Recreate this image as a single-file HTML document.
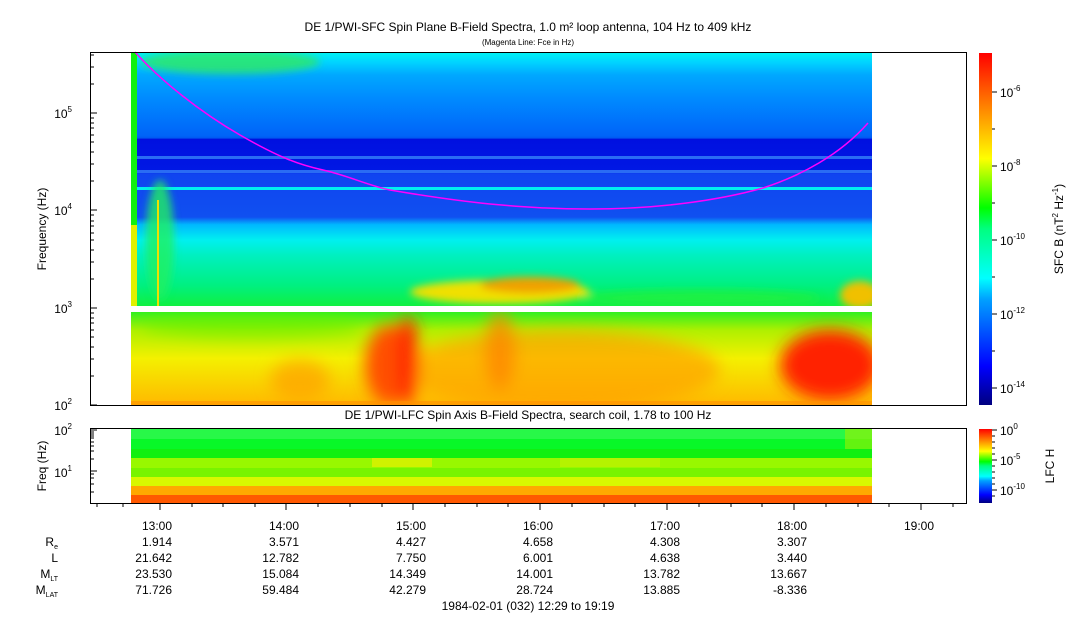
<!DOCTYPE html>
<html><head><meta charset="utf-8"><style>
body{margin:0;background:#fff;}
svg{display:block;font-family:"Liberation Sans",sans-serif;}
</style></head><body>
<svg width="1083" height="620" viewBox="0 0 1083 620" xmlns="http://www.w3.org/2000/svg">
<defs>
<linearGradient id="up" x1="0" y1="52" x2="0" y2="306" gradientUnits="userSpaceOnUse">
<stop offset="0" stop-color="#00f4f4"/>
<stop offset="0.04" stop-color="#00d4ff"/>
<stop offset="0.09" stop-color="#00a8ff"/>
<stop offset="0.19" stop-color="#0088ff"/>
<stop offset="0.33" stop-color="#0064f8"/>
<stop offset="0.339" stop-color="#0058f0"/>
<stop offset="0.343" stop-color="#0010e0"/>
<stop offset="0.465" stop-color="#0018e4"/>
<stop offset="0.48" stop-color="#1044f0"/>
<stop offset="0.65" stop-color="#1050f0"/>
<stop offset="0.68" stop-color="#00b8ff"/>
<stop offset="0.74" stop-color="#00f0f0"/>
<stop offset="0.8" stop-color="#00f0c0"/>
<stop offset="0.92" stop-color="#00f080"/>
<stop offset="1" stop-color="#10f040"/>
</linearGradient>
<linearGradient id="lo" x1="0" y1="312" x2="0" y2="405" gradientUnits="userSpaceOnUse">
<stop offset="0" stop-color="#30f020"/>
<stop offset="0.2" stop-color="#b0f000"/>
<stop offset="0.5" stop-color="#f4f000"/>
<stop offset="1" stop-color="#ffb800"/>
</linearGradient>
<linearGradient id="cb1" x1="0" y1="405" x2="0" y2="53" gradientUnits="userSpaceOnUse">
<stop offset="0" stop-color="#00007f"/><stop offset="0.11" stop-color="#0000ff"/>
<stop offset="0.3" stop-color="#00a0ff"/><stop offset="0.36" stop-color="#00ffff"/>
<stop offset="0.5" stop-color="#00ff80"/><stop offset="0.56" stop-color="#00ff00"/>
<stop offset="0.7" stop-color="#ffff00"/><stop offset="0.85" stop-color="#ff8000"/>
<stop offset="1" stop-color="#ff0000"/>
</linearGradient>
<linearGradient id="cb2" x1="0" y1="503" x2="0" y2="429" gradientUnits="userSpaceOnUse">
<stop offset="0" stop-color="#00007f"/><stop offset="0.11" stop-color="#0000ff"/>
<stop offset="0.3" stop-color="#00a0ff"/><stop offset="0.36" stop-color="#00ffff"/>
<stop offset="0.5" stop-color="#00ff80"/><stop offset="0.56" stop-color="#00ff00"/>
<stop offset="0.7" stop-color="#ffff00"/><stop offset="0.85" stop-color="#ff8000"/>
<stop offset="1" stop-color="#ff0000"/>
</linearGradient>
<filter id="bl" x="-50%" y="-50%" width="200%" height="200%"><feGaussianBlur stdDeviation="8"/></filter>
<filter id="bl2" x="-50%" y="-50%" width="200%" height="200%"><feGaussianBlur stdDeviation="4"/></filter>
<clipPath id="cu"><rect x="131" y="52" width="741" height="254"/></clipPath>
<clipPath id="cl"><rect x="131" y="312" width="741" height="93"/></clipPath>
</defs>

<text x="528" y="31" font-size="12" text-anchor="middle">DE 1/PWI-SFC  Spin Plane B-Field Spectra, 1.0 m² loop antenna, 104 Hz to 409 kHz</text>
<text x="528" y="45" font-size="8" text-anchor="middle">(Magenta Line: Fce in Hz)</text>

<!-- upper SFC -->
<g clip-path="url(#cu)">
<rect x="131" y="52" width="741" height="254" fill="url(#up)"/>
<rect x="131" y="156" width="741" height="3" fill="#2a6cf4"/>
<rect x="131" y="170" width="741" height="3" fill="#2a6cf4"/>
<rect x="131" y="187" width="741" height="3" fill="#00f0f0"/>
<g filter="url(#bl2)">
<ellipse cx="230" cy="62" rx="90" ry="12" fill="#30e860" opacity="0.8"/>
<ellipse cx="160" cy="240" rx="14" ry="60" fill="#20f060" opacity="0.8"/>
<ellipse cx="500" cy="292" rx="90" ry="12" fill="#f0e000"/>
<ellipse cx="530" cy="285" rx="50" ry="8" fill="#f0a000"/>
<ellipse cx="860" cy="295" rx="20" ry="14" fill="#f0c000"/>
<ellipse cx="700" cy="298" rx="120" ry="8" fill="#20f040" opacity="0.8"/>
</g>
<rect x="131" y="52" width="6" height="254" fill="#10f010"/>
<rect x="131" y="225" width="6" height="81" fill="#e0f000"/>
<rect x="157" y="200" width="2" height="106" fill="#f0e000"/>
</g>

<!-- lower SFC -->
<g clip-path="url(#cl)">
<rect x="131" y="312" width="741" height="93" fill="url(#lo)"/>
<g filter="url(#bl)">
<ellipse cx="560" cy="370" rx="160" ry="40" fill="#ffa000" opacity="0.7"/>
<ellipse cx="390" cy="365" rx="25" ry="40" fill="#ff5000"/>
<ellipse cx="408" cy="360" rx="10" ry="45" fill="#ff2000"/>
<ellipse cx="830" cy="365" rx="50" ry="35" fill="#ff2000"/>
<ellipse cx="300" cy="380" rx="30" ry="20" fill="#ffa000" opacity="0.7"/>
<ellipse cx="500" cy="350" rx="15" ry="40" fill="#ff8000" opacity="0.7"/>
<ellipse cx="250" cy="325" rx="110" ry="12" fill="#60f000" opacity="0.6"/>
</g>
<rect x="131" y="401" width="741" height="4" fill="#ff9000" opacity="0.6"/>
</g>

<!-- magenta Fce -->
<path d="M135,52 C160,80 200,112 240,135 S300,165 323,170 S370,186 390,190 C460,202 520,209 590,209 C660,209 720,200 763,188 C800,176 840,155 868,123" fill="none" stroke="#ff00ff" stroke-width="1.5"/>

<!-- upper frame -->
<rect x="90.5" y="52.5" width="876" height="353" fill="none" stroke="#000"/>
<g font-size="12" text-anchor="end">
<text x="72" y="410">10<tspan font-size="8" dy="-6">2</tspan></text>
<text x="72" y="313">10<tspan font-size="8" dy="-6">3</tspan></text>
<text x="72" y="215">10<tspan font-size="8" dy="-6">4</tspan></text>
<text x="72" y="118">10<tspan font-size="8" dy="-6">5</tspan></text>
</g>
<g stroke="#000">
<path d="M90,405h7M90,308h7M90,210h7M90,113h7"/>
<path d="M90,376h4M90,359h4M90,347h4M90,337h4M90,330h4M90,323h4M90,318h4M90,313h4
M90,279h4M90,262h4M90,250h4M90,240h4M90,233h4M90,226h4M90,221h4M90,215h4
M90,181h4M90,164h4M90,152h4M90,142h4M90,135h4M90,128h4M90,123h4M90,118h4
M90,84h4M90,67h4M90,55h4"/>
</g>
<text transform="translate(46,229) rotate(-90)" font-size="12" text-anchor="middle">Frequency (Hz)</text>

<!-- colorbar 1 -->
<rect x="979" y="53" width="13" height="352" fill="url(#cb1)"/>
<g stroke="#000"><path d="M992,92h5M992,166h5M992,240h5M992,314h5M992,388h5M992,129h3M992,203h3M992,277h3M992,351h3"/></g>
<g font-size="12">
<text x="1000" y="97">10<tspan font-size="8" dy="-6">-6</tspan></text>
<text x="1000" y="171">10<tspan font-size="8" dy="-6">-8</tspan></text>
<text x="1000" y="245">10<tspan font-size="8" dy="-6">-10</tspan></text>
<text x="1000" y="319">10<tspan font-size="8" dy="-6">-12</tspan></text>
<text x="1000" y="393">10<tspan font-size="8" dy="-6">-14</tspan></text>
</g>
<text transform="translate(1063,229) rotate(-90)" font-size="12" text-anchor="middle">SFC B (nT<tspan font-size="8" dy="-5">2</tspan><tspan dy="5"> Hz</tspan><tspan font-size="8" dy="-5">-1</tspan><tspan dy="5">)</tspan></text>

<!-- LFC title -->
<text x="528" y="419" font-size="12" text-anchor="middle">DE 1/PWI-LFC  Spin Axis B-Field Spectra, search coil, 1.78 to 100 Hz</text>

<!-- LFC panel -->
<g>
<rect x="131" y="429" width="741" height="10" fill="#28f848"/>
<rect x="131" y="439" width="741" height="10" fill="#08f828"/>
<rect x="131" y="449" width="741" height="9" fill="#10f010"/>
<rect x="131" y="458" width="741" height="10" fill="#98f800"/>
<rect x="131" y="468" width="741" height="9" fill="#78f400"/>
<rect x="131" y="477" width="741" height="9" fill="#d8f800"/>
<rect x="131" y="486" width="741" height="9" fill="#ffa800"/>
<rect x="131" y="495" width="741" height="8" fill="#ff5800"/>
<rect x="372" y="458" width="60" height="9" fill="#e8f000" opacity="0.7"/>
<rect x="560" y="458" width="100" height="9" fill="#c8f000" opacity="0.6"/>
<rect x="845" y="429" width="27" height="20" fill="#a0f000" opacity="0.6"/>
</g>
<rect x="90.5" y="428.5" width="876" height="75" fill="none" stroke="#000"/>
<g font-size="12" text-anchor="end">
<text x="72" y="435">10<tspan font-size="8" dy="-6">2</tspan></text>
<text x="72" y="477">10<tspan font-size="8" dy="-6">1</tspan></text>
</g>
<g stroke="#000"><path d="M90,430h7M90,471h7M90,492h4M90,484h4M90,478h4M90,474h4M90,459h4M90,451h4M90,446h4M90,442h4M90,438h4M90,436h4M90,434h4M90,432h4"/></g>
<text transform="translate(46,466) rotate(-90)" font-size="12" text-anchor="middle">Freq (Hz)</text>

<rect x="979" y="429" width="13" height="74" fill="url(#cb2)"/>
<g stroke="#000"><path d="M992,430h5M992,460h5M992,490h5M992,436h3M992,442h3M992,448h3M992,454h3M992,466h3M992,472h3M992,478h3M992,484h3M992,496h3"/></g>
<g font-size="12">
<text x="1000" y="435">10<tspan font-size="8" dy="-6">0</tspan></text>
<text x="1000" y="465">10<tspan font-size="8" dy="-6">-5</tspan></text>
<text x="1000" y="495">10<tspan font-size="8" dy="-6">-10</tspan></text>
</g>
<text transform="translate(1054,466) rotate(-90)" font-size="12" text-anchor="middle">LFC H</text>

<!-- time ticks -->
<g stroke="#000">
<path d="M160,503v7M286,503v7M413,503v7M540,503v7M667,503v7M794,503v7M921,503v7"/>
<path d="M97,503v4M123,503v4M192,503v4M223,503v4M255,503v4M318,503v4M350,503v4M382,503v4M445,503v4M477,503v4M508,503v4M572,503v4M604,503v4M635,503v4M699,503v4M731,503v4M762,503v4M826,503v4M858,503v4M889,503v4M953,503v4"/>
</g>
<g font-size="12" text-anchor="end">
<text x="172" y="530">13:00</text><text x="299" y="530">14:00</text><text x="426" y="530">15:00</text><text x="553" y="530">16:00</text><text x="680" y="530">17:00</text><text x="807" y="530">18:00</text><text x="934" y="530">19:00</text>
<text x="172" y="546">1.914</text><text x="299" y="546">3.571</text><text x="426" y="546">4.427</text><text x="553" y="546">4.658</text><text x="680" y="546">4.308</text><text x="807" y="546">3.307</text>
<text x="172" y="562">21.642</text><text x="299" y="562">12.782</text><text x="426" y="562">7.750</text><text x="553" y="562">6.001</text><text x="680" y="562">4.638</text><text x="807" y="562">3.440</text>
<text x="172" y="578">23.530</text><text x="299" y="578">15.084</text><text x="426" y="578">14.349</text><text x="553" y="578">14.001</text><text x="680" y="578">13.782</text><text x="807" y="578">13.667</text>
<text x="172" y="594">71.726</text><text x="299" y="594">59.484</text><text x="426" y="594">42.279</text><text x="553" y="594">28.724</text><text x="680" y="594">13.885</text><text x="807" y="594">-8.336</text>
<text x="58" y="546">R<tspan font-size="7" dy="3">e</tspan></text>
<text x="58" y="562">L</text>
<text x="58" y="578">M<tspan font-size="7" dy="3">LT</tspan></text>
<text x="58" y="594">M<tspan font-size="7" dy="3">LAT</tspan></text>
</g>
<text x="528" y="610" font-size="12" text-anchor="middle">1984-02-01 (032) 12:29 to 19:19</text>
</svg>
</body></html>
